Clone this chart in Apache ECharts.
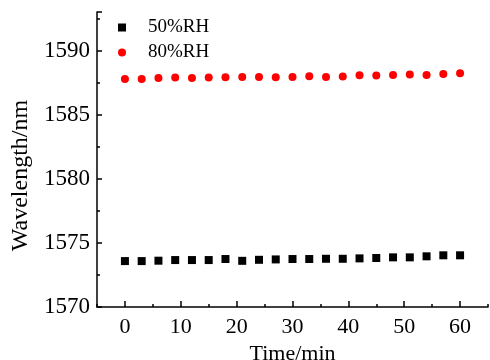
<!DOCTYPE html>
<html><head><meta charset="utf-8">
<script src="https://cdn.jsdelivr.net/npm/echarts@6/dist/echarts.min.js"></script>
<style>html,body{margin:0;padding:0;background:#fff}#c{width:490px;height:360px}</style>
</head><body><div id="c"></div>
<script>
const times = [0,3,6,9,12,15,18,21,24,27,30,33,36,39,42,45,48,51,54,57,60];
const rh50 = [1573.58,1573.58,1573.61,1573.66,1573.66,1573.66,1573.74,1573.60,1573.68,1573.71,1573.74,1573.74,1573.76,1573.76,1573.79,1573.82,1573.87,1573.87,1573.95,1574.03,1574.03];
const rh80 = [1587.78,1587.78,1587.86,1587.89,1587.86,1587.89,1587.91,1587.93,1587.94,1587.91,1587.94,1587.99,1587.94,1587.97,1588.07,1588.05,1588.09,1588.12,1588.09,1588.17,1588.22];
const xMajor = [0,10,20,30,40,50,60];
const xMinor = [-5,5,15,25,35,45,55,65];
const seriesNames = ['50%RH','80%RH'];
const font = "'Liberation Serif', 'Times New Roman', serif";
const chart = echarts.init(document.getElementById('c'));
chart.setOption({
  animation:false,
  grid:{left:97,right:2,top:12,bottom:53,outerBoundsMode:'none',containLabel:false},
  legend:{
    orient:'vertical', left:113, top:13, itemWidth:8, itemHeight:8, itemGap:6,
    textStyle:{fontFamily:font,fontSize:19,color:'#000',padding:[0,0,0,17],lineHeight:18},
    data:[{name:seriesNames[0],icon:'rect'},{name:seriesNames[1],icon:'circle'}]
  },
  xAxis:[{
    type:'value', min:-5, max:65,
    name:'Time/min', nameLocation:'middle', nameGap:32,
    nameTextStyle:{fontFamily:font,fontSize:22,color:'#000'},
    axisLine:{onZero:false,lineStyle:{color:'#000',width:1.5}},
    axisTick:{inside:true,length:6,customValues:xMajor,lineStyle:{color:'#000',width:1.5}},
    axisLabel:{customValues:xMajor,fontFamily:font,fontSize:22,color:'#000',margin:9},
    splitLine:{show:false}
  },{
    type:'value', min:-5, max:65, position:'bottom',
    axisLine:{show:false,onZero:false},
    axisTick:{inside:true,length:3,customValues:xMinor,lineStyle:{color:'#000',width:1.5}},
    axisLabel:{show:false}, splitLine:{show:false}
  }],
  yAxis:{
    type:'value', min:1570, max:1593, interval:5,
    name:'Wavelength/nm', nameLocation:'middle', nameGap:60,
    nameTextStyle:{fontFamily:font,fontSize:24,color:'#000',padding:[0,32,0,0]},
    axisLine:{show:true,onZero:false,lineStyle:{color:'#000',width:1.5}},
    axisTick:{inside:true,length:5,lineStyle:{color:'#000',width:1.5}},
    minorTick:{show:true,splitNumber:2,length:3,lineStyle:{color:'#000',width:1.5}},
    axisLabel:{fontFamily:font,fontSize:23,color:'#000',margin:7,
      formatter:v=> (v%5===0? String(v):'')},
    splitLine:{show:false}
  },
  series:[
    {name:seriesNames[0],type:'scatter',symbol:'rect',symbolSize:8,itemStyle:{color:'#000',opacity:1},
     data:times.map((t,i)=>[t,rh50[i]])},
    {name:seriesNames[1],type:'scatter',symbol:'circle',symbolSize:8,itemStyle:{color:'#ff0000',opacity:1},
     data:times.map((t,i)=>[t,rh80[i]])}
  ]
});
</script></body></html>
